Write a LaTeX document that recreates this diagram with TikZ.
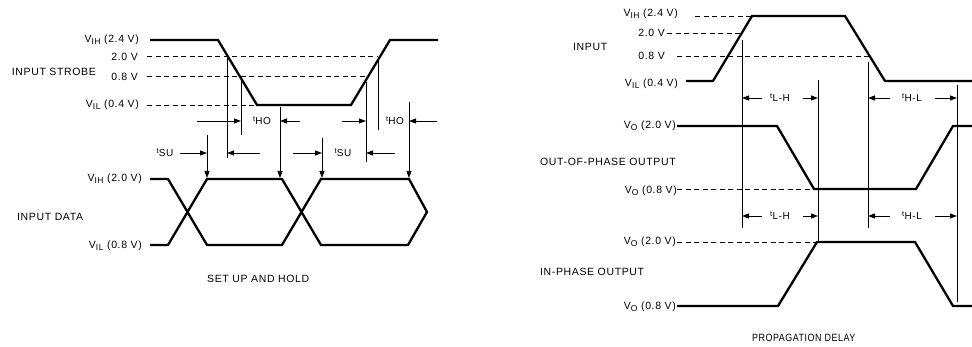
\documentclass[tikz,border=0pt]{standalone}
\usepackage{fontspec}
\setmainfont[LetterSpace=6]{Liberation Sans}
\usetikzlibrary{arrows.meta}
\newcommand\tsym[1]{\raisebox{0.55ex}{\fontsize{7.5}{8}\selectfont t}\kern0.3pt{\fontsize{10}{12}\selectfont #1}}
\newcommand\vsub[1]{V\raisebox{-0.4ex}{\fontsize{8.5}{9}\selectfont #1}}
\begin{document}
\begin{tikzpicture}[x=1pt,y=-1pt,
  lbl/.style={font=\fontsize{10.5}{12}\selectfont, inner sep=0pt},
  sig/.style={line width=2.3pt, line join=miter},
  refl/.style={line width=0.7pt, dash pattern=on 5pt off 3.5pt},
  vline/.style={line width=0.7pt},
  dimarr/.style={line width=0.9pt, -{Triangle[length=7pt,width=5pt]}},
  downarr/.style={line width=0.7pt, -{Triangle[length=7pt,width=5pt]}}]
\useasboundingbox (0,0) rectangle (972,347);

% ================= SET UP AND HOLD =================
% labels
\node[lbl,anchor=east] (sVIH) at (139,40) {\vsub{IH} (2.4 V)};
\node[lbl,anchor=east] (s20) at (138,57) {2.0 V};
\node[lbl,anchor=east] (sstrobe) at (96,72) {INPUT STROBE};
\node[lbl,anchor=east] (s08) at (138,77) {0.8 V};
\node[lbl,anchor=east] (sVIL) at (139,105) {\vsub{IL} (0.4 V)};
\node[lbl,anchor=east] (dVIH) at (142,179) {\vsub{IH} (2.0 V)};
\node[lbl,anchor=west] (ddata) at (17,217) {INPUT DATA};
\node[lbl,anchor=east] (dVIL) at (142,246) {\vsub{IL} (0.8 V)};
\node[lbl,anchor=west] (stitle) at (207,279) {SET UP AND HOLD};

% reference dashed lines
\draw[refl] (147,56) -- (378,56);
\draw[refl] (147,76) -- (366,76);
\draw[refl] (147,105) -- (257,105);

% input strobe
\draw[sig] (150,40) -- (218,40) -- (257,105) -- (351,105) -- (390,40) -- (438,40);

% input data
\draw[sig] (150,179) -- (168,179) -- (207,245) -- (282,245) -- (321,179) -- (409,179)
  -- (427,212) -- (408,245) -- (321,245) -- (282,179) -- (207,179) -- (168,245) -- (150,245);

% vertical reference lines
\coordinate (v227t) at (227,56);  \coordinate (v227b) at (227,158);
\coordinate (v241t) at (241,76);  \coordinate (v241b) at (241,135);
\coordinate (v366t) at (366,82);  \coordinate (v366b) at (366,162);
\coordinate (v378t) at (378,58);  \coordinate (v378b) at (378,130);
\draw[vline] (v227t) -- (v227b);
\draw[vline] (v241t) -- (v241b);
\draw[vline] (v366t) -- (v366b);
\draw[vline] (v378t) -- (v378b);
\coordinate (a207t) at (207,135); \coordinate (a207b) at (207,178);
\coordinate (a280t) at (280,107); \coordinate (a280b) at (280,178);
\coordinate (a322t) at (322,138); \coordinate (a322b) at (322,178);
\coordinate (a409t) at (409,102); \coordinate (a409b) at (409,178);
\draw[downarr] (a207t) -- (a207b);
\draw[downarr] (a280t) -- (a280b);
\draw[downarr] (a322t) -- (a322b);
\draw[downarr] (a409t) -- (a409b);

% t_HO dimensions
\node[lbl] (tho1) at (262,121) {\tsym{HO}};
\node[lbl] (tho2) at (395,121) {\tsym{HO}};
\draw[dimarr] (197,121) -- (241,121);
\draw[dimarr] (300,121) -- (280,121);
\draw[dimarr] (342,121) -- (366,121);
\draw[dimarr] (437,121) -- (409,121);
% t_SU dimensions
\node[lbl] (tsu1) at (165,153) {\tsym{SU}};
\node[lbl] (tsu2) at (343,153) {\tsym{SU}};
\draw[dimarr] (180,153) -- (207,153);
\draw[dimarr] (260,153) -- (227,153);
\draw[dimarr] (293,153) -- (322,153);
\draw[dimarr] (395,153) -- (366,153);

% ================= PROPAGATION DELAY =================
\node[lbl,anchor=east] (pVIH) at (678,14) {\vsub{IH} (2.4 V)};
\node[lbl,anchor=east] (p20) at (665,33) {2.0 V};
\node[lbl,anchor=west] (pinput) at (573,47) {INPUT};
\node[lbl,anchor=east] (p08) at (665,56) {0.8 V};
\node[lbl,anchor=east] (pVIL) at (678,84) {\vsub{IL} (0.4 V)};
\node[lbl,anchor=east] (oVOH) at (676,126) {\vsub{O} (2.0 V)};
\node[lbl,anchor=west] (oname) at (540,162) {OUT-OF-PHASE OUTPUT};
\node[lbl,anchor=east] (oVOL) at (677,191) {\vsub{O} (0.8 V)};
\node[lbl,anchor=east] (iVOH) at (676,242) {\vsub{O} (2.0 V)};
\node[lbl,anchor=west] (iname) at (540,272) {IN-PHASE OUTPUT};
\node[lbl,anchor=east] (iVOL) at (676,307) {\vsub{O} (0.8 V)};
\node[lbl,anchor=west,transform shape,xscale=0.85] (ptitle) at (752,338) {PROPAGATION DELAY};

% reference dashed lines
\draw[refl] (695,16) -- (752,16);
\draw[refl] (667,33) -- (742,33);
\draw[refl] (677,56) -- (870,56);
\draw[refl] (677,189) -- (814,189);
\draw[refl] (677,242) -- (817,242);

% signals
\draw[sig] (686,81) -- (713,81) -- (752,16) -- (845,16) -- (885,81) -- (972,81);
\draw[sig] (677,126) -- (777,126) -- (814,189) -- (916,189) -- (953,126) -- (972,126);
\draw[sig] (677,306) -- (778,306) -- (817,242) -- (915,242) -- (953,306) -- (972,306);

% vertical reference lines
\coordinate (p742t) at (742,40);  \coordinate (p742b) at (742,228);
\coordinate (p818t) at (818,80);  \coordinate (p818b) at (818,242);
\coordinate (p868t) at (868,62);  \coordinate (p868b) at (868,228);
\coordinate (p957t) at (957,85);  \coordinate (p957b) at (957,302);
\draw[vline] (p742t) -- (p742b);
\draw[vline] (p818t) -- (p818b);
\draw[vline] (p868t) -- (p868b);
\draw[vline] (p957t) -- (p957b);

% t_L-H and t_H-L dimensions
\foreach \yy/\nm in {98/a,216/b}{
  \node[lbl] (tlh\nm) at (780,\yy) {\tsym{L-H}};
  \node[lbl] (thl\nm) at (912,\yy) {\tsym{H-L}};
  \draw[dimarr] (762,\yy) -- (742,\yy);
  \draw[dimarr] (803,\yy) -- (818,\yy);
  \draw[dimarr] (890,\yy) -- (868,\yy);
  \draw[dimarr] (935,\yy) -- (957,\yy);
}
\end{tikzpicture}
\end{document}
